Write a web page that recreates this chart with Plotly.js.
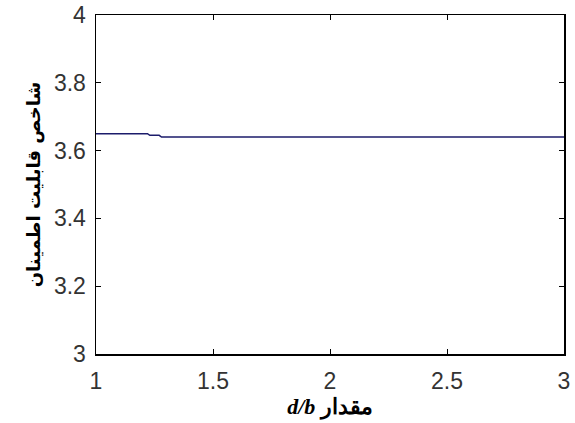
<!DOCTYPE html>
<html>
<head>
<meta charset="utf-8">
<script src="https://cdn.plot.ly/plotly-3.0.1.min.js"></script>
<style>html,body{margin:0;padding:0;background:#fff;}#chart{width:575px;height:423px;}</style>
</head>
<body>
<div id="chart"></div>
<script>
const ratio = [1, 1.22, 1.23, 1.27, 1.28, 1.5, 2, 2.5, 3];
const reliability = [3.65, 3.65, 3.645, 3.645, 3.64, 3.64, 3.64, 3.64, 3.64];
const xTicks = [1, 1.5, 2, 2.5, 3];
const xTickLabels = ['1', '1.5', '2', '2.5', '3'];
const yTicks = [3, 3.2, 3.4, 3.6, 3.8, 4];
const yTickLabels = ['3', '3.2', '3.4', '3.6', '3.8', '4'];

const trace = {
  x: ratio, y: reliability, type: 'scatter', mode: 'lines',
  line: {color: '#1c1c6b', width: 1.5}, hoverinfo: 'skip'
};
const axisCommon = {
  showline: true, linecolor: '#000', linewidth: 1.5, mirror: 'ticks',
  ticks: 'inside', ticklen: 5, tickcolor: '#000', showgrid: false, zeroline: false,
  tickfont: {family: 'Liberation Sans, Arial, sans-serif', size: 23, color: '#333'}
};
const layout = {
  width: 575, height: 423,
  margin: {l: 96, r: 11, t: 15, b: 69},
  paper_bgcolor: '#fff', plot_bgcolor: '#fff',
  showlegend: false,
  xaxis: Object.assign({}, axisCommon, {
    range: [1, 3], tickvals: xTicks, ticktext: xTickLabels, ticklabelstandoff: 6,
    title: {text: '<b><i>d/b</i></b> <b>مقدار</b>', standoff: 4,
      font: {family: 'Liberation Serif, Times New Roman, serif', size: 22, color: '#000'}}
  }),
  yaxis: Object.assign({}, axisCommon, {
    range: [3, 4], tickvals: yTicks, ticktext: yTickLabels, ticklabelstandoff: 4,
    title: {text: '<b>شاخص قابلیت اطمینان</b>', standoff: 8,
      font: {family: 'DejaVu Sans, Noto Sans, sans-serif', size: 18, color: '#000'}}
  })
};
Plotly.newPlot('chart', [trace], layout, {displayModeBar: false, staticPlot: true});
</script>
</body>
</html>
